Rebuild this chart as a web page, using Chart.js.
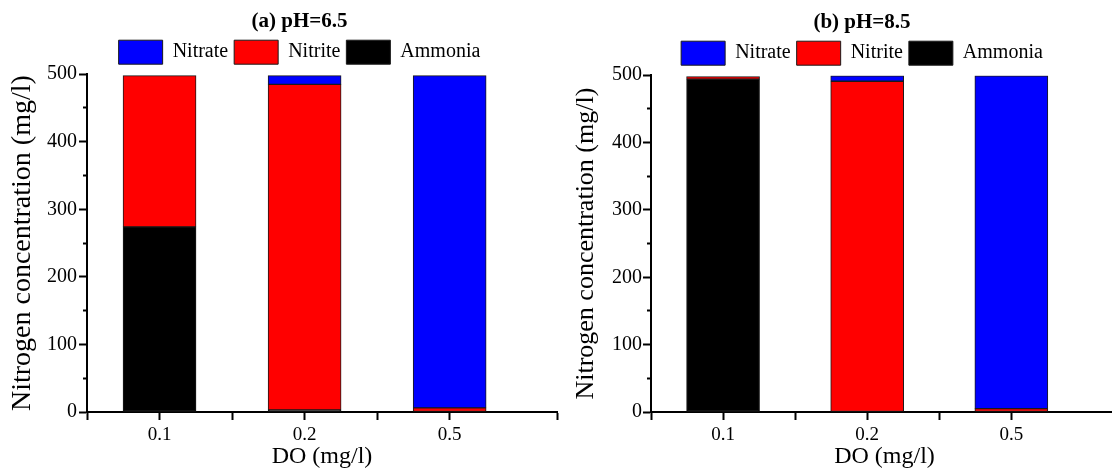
<!DOCTYPE html>
<html>
<head>
    <script src="https://cdn.jsdelivr.net/npm/chart.js@4.4.0/dist/chart.umd.min.js"></script>
</head>
<body>
    <canvas id="chartA" width="600" height="471" role="img" aria-label="Nitrogen species at pH 6.5"></canvas>
    <canvas id="chartB" width="612" height="471" role="img" aria-label="Nitrogen species at pH 8.5"></canvas>
</body>
</html>

<script>
    // DATA
    const doLevels = ['0.1', '0.2', '0.5'];
    const ammoniaA = [274, 3, 0];
    const nitriteA = [224, 482, 6];
    const nitrateA = [0, 13, 492];
    const ammoniaB = [494, 0, 0];
    const nitriteB = [4, 491, 5];
    const nitrateB = [0, 8, 494];
    const yTicks = [0, 100, 200, 300, 400, 500];

    Chart.defaults.color = '#000';
    Chart.defaults.font.family = "'Liberation Serif', 'Times New Roman', serif";

    // title + legend sit a bit right of where chart.js centres them
    const shiftHeader = (dx) => ({
        id: 'shiftHeader',
        afterLayout: (chart) => {
            [chart.titleBlock, chart.legend].forEach(box => {
                box.left += dx;
                box.right += dx;
            });
        }
    });

    const makeChart = (canvasId, title, ammonia, nitrite, nitrate, layout) => {
        const bar = (label, data, colour) => ({
            label: label,
            data: data,
            backgroundColor: colour,
            borderColor: '#1a1a1a',
            borderWidth: 1,
            borderSkipped: false,
            barThickness: 73
        });
        return new Chart(document.getElementById(canvasId), {
            type: 'bar',
            data: {
                // positions 1..n on a linear axis, labelled from doLevels
                labels: doLevels.map((lvl, i) => i + 1),
                datasets: [
                    bar('Ammonia', ammonia, '#000000'),
                    bar('Nitrite', nitrite, '#ff0000'),
                    bar('Nitrate', nitrate, '#0000ff')
                ]
            },
            plugins: [shiftHeader(layout.headerShift)],
            options: {
                responsive: false,
                animation: false,
                layout: { padding: { right: layout.padRight } },
                plugins: {
                    tooltip: { enabled: false },
                    title: {
                        display: true,
                        text: title,
                        font: { size: 21, weight: 'bold' },
                        padding: { top: layout.titleTop, bottom: 0 }
                    },
                    legend: {
                        reverse: true,
                        labels: {
                            boxWidth: 44,
                            boxHeight: 24,
                            padding: 6,
                            font: { size: 20 }
                        }
                    }
                },
                scales: {
                    x: {
                        type: 'linear',
                        stacked: true,
                        offset: false,
                        min: 0.5,
                        max: 3.74,
                        afterFit: (s) => { s.height = 59; },
                        grid: { drawOnChartArea: false, offset: false, tickLength: 8, tickWidth: 2, tickColor: '#000' },
                        border: { color: '#000', width: 2 },
                        ticks: {
                            stepSize: 0.5,
                            autoSkip: false,
                            padding: 4,
                            maxRotation: 0,
                            font: { size: 19 },
                            callback: (v) => Number.isInteger(v) ? doLevels[v - 1] : ''
                        },
                        title: {
                            display: true,
                            text: 'DO (mg/l)',
                            font: { size: 24 },
                            padding: { top: 0, bottom: 0 }
                        }
                    },
                    y: {
                        stacked: true,
                        min: 0,
                        max: 500,
                        afterFit: (s) => { s.width = layout.yWidth; },
                        grid: {
                            drawOnChartArea: false,
                            tickLength: 8,
                            tickWidth: 2,
                            tickColor: '#000',
                            // minor ticks: only the inner part of the tick is drawn
                            tickBorderDash: (ctx) => yTicks.includes(ctx.tick.value) ? [] : [3, 5],
                            tickBorderDashOffset: (ctx) => yTicks.includes(ctx.tick.value) ? 0 : 4
                        },
                        border: { color: '#000', width: 2 },
                        ticks: {
                            stepSize: 50,
                            autoSkip: false,
                            padding: layout.yPad,
                            font: { size: 20 },
                            callback: (v) => yTicks.includes(v) ? v : ''
                        },
                        title: {
                            display: true,
                            text: 'Nitrogen concentration (mg/l)',
                            font: { size: layout.yTitleSize },
                            padding: { top: layout.yTitlePad, bottom: 0 }
                        }
                    }
                }
            }
        });
    };

    makeChart('chartA', '(a) pH=6.5', ammoniaA, nitriteA, nitrateA,
        { padRight: 43, headerShift: 21, titleTop: 9, yWidth: 87, yPad: 2, yTitleSize: 28, yTitlePad: 6 });
    makeChart('chartB', '(b) pH=8.5', ammoniaB, nitriteB, nitrateB,
        { padRight: 50, headerShift: 25, titleTop: 10, yWidth: 95, yPad: 1, yTitleSize: 26, yTitlePad: 15 });
</script>

<style>
html, body {
    margin: 0;
    padding: 0;
    background: #fff;
    overflow: hidden;
}
body {
    position: relative;
    width: 1112px;
    height: 471px;
}
canvas {
    position: absolute;
    top: 0;
}
#chartA {
    left: 0;
}
#chartB {
    left: 556px;
}
</style>
